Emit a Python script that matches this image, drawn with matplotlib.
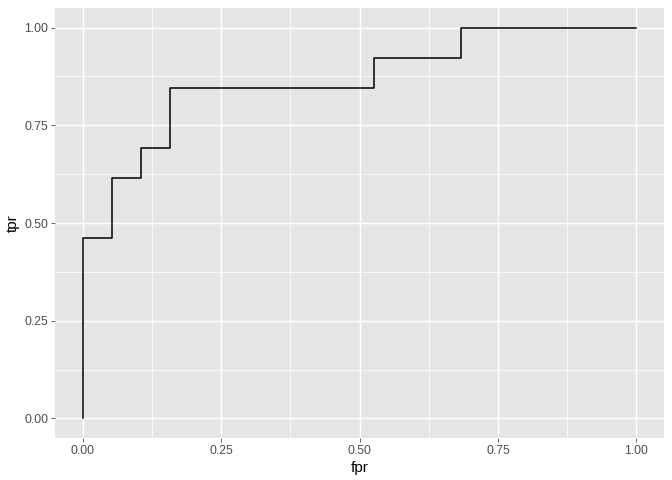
import matplotlib
matplotlib.use("Agg")
import matplotlib.pyplot as plt
from matplotlib.ticker import FixedLocator

plt.rcParams["font.family"] = ["Liberation Sans", "DejaVu Sans"]

fpr = [0.0, 0.0, 1/19, 2/19, 3/19, 10/19, 13/19, 1.0]
tpr = [0.0, 6/13, 8/13, 9/13, 11/13, 12/13, 1.0, 1.0]
ticks = [0.0, 0.25, 0.5, 0.75, 1.0]
tick_labels = ["0.00", "0.25", "0.50", "0.75", "1.00"]

fig = plt.figure(figsize=(6.72, 4.8), dpi=100)
ax = fig.add_axes([55/672, 1-438/480, (664-55)/672, (438-8)/480])
ax.set_facecolor("#E5E5E5")
for s in ax.spines.values():
    s.set_visible(False)

ax.set_xlim(-0.05, 1.05)
ax.set_ylim(-0.05, 1.05)
ax.xaxis.set_major_locator(FixedLocator(ticks))
ax.yaxis.set_major_locator(FixedLocator(ticks))
ax.xaxis.set_minor_locator(FixedLocator([0.125, 0.375, 0.625, 0.875]))
ax.yaxis.set_minor_locator(FixedLocator([0.125, 0.375, 0.625, 0.875]))
ax.set_xticklabels(tick_labels)
ax.set_yticklabels(tick_labels)
ax.grid(which="major", color="white", linewidth=1.07)
ax.grid(which="minor", color="white", linewidth=0.53)
ax.set_axisbelow(True)
ax.tick_params(which="major", length=2.75, width=1.07*0.5, color="#333333",
               labelcolor="#4D4D4D", labelsize=8.8, pad=2.2)
ax.tick_params(which="minor", length=0)

ax.plot(fpr, tpr, drawstyle="steps-post", color="black", linewidth=1.1)

ax.set_xlabel("fpr", fontsize=11, labelpad=3)
ax.set_ylabel("tpr", fontsize=11, labelpad=3)

fig.savefig("out.png", dpi=100)
